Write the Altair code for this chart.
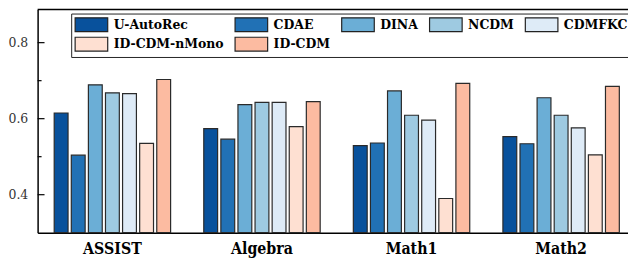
import altair as alt
import pandas as pd

datasets = ["ASSIST", "Algebra", "Math1", "Math2"]
methods = ["U-AutoRec", "CDAE", "DINA", "NCDM", "CDMFKC", "ID-CDM-nMono", "ID-CDM"]
colors = ["#08519c", "#2171b5", "#6baed6", "#9ecae1", "#deebf7", "#fee0d2", "#fcbba1"]

u_autorec = [0.615, 0.574, 0.529, 0.553]
cdae = [0.504, 0.546, 0.536, 0.534]
dina = [0.689, 0.637, 0.673, 0.655]
ncdm = [0.668, 0.643, 0.609, 0.609]
cdmfkc = [0.666, 0.643, 0.596, 0.576]
id_cdm_nmono = [0.535, 0.579, 0.390, 0.505]
id_cdm = [0.703, 0.645, 0.693, 0.685]

y_ticks_major = [0.4, 0.6, 0.8]
y_ticks_minor = [0.5, 0.7]

series = [u_autorec, cdae, dina, ncdm, cdmfkc, id_cdm_nmono, id_cdm]
rows = []
for m, vals in zip(methods, series):
    for d, v in zip(datasets, vals):
        rows.append({"dataset": d, "method": m, "value": v})
df = pd.DataFrame(rows)

FONT = "'DejaVu Serif Condensed', 'DejaVu Serif', serif"
W, H = 598, 226
ymin, ymax = 0.3, 0.887
yscale = alt.Scale(domain=[ymin, ymax], nice=False, zero=False)

bars = alt.Chart(df).mark_bar(stroke="#2a2a2a", strokeWidth=1.2).encode(
    x=alt.X("dataset:N", sort=datasets,
            scale=alt.Scale(range=[0, 606], paddingInner=0.2, paddingOuter=0.1),
            axis=alt.Axis(title=None, labelAngle=0, tickSize=0, labelPadding=8,
                          labelFont=FONT, labelFontSize=16,
                          labelFontWeight="bold", labelColor="#000",
                          domainColor="#000", domainWidth=1.5)),
    xOffset=alt.XOffset("method:N", sort=methods,
                        scale=alt.Scale(paddingInner=0.19, paddingOuter=0.095)),
    y=alt.Y("value:Q", scale=yscale,
            axis=alt.Axis(title=None, values=y_ticks_major, format=".1f", tickSize=0,
                          grid=False, labelPadding=10, labelFont=FONT,
                          labelFontSize=14, labelColor="#333",
                          domainColor="#000", domainWidth=1.5)),
    y2=alt.datum(ymin),
    color=alt.Color("method:N", sort=methods,
                    scale=alt.Scale(domain=methods, range=colors),
                    legend=alt.Legend(title=None, orient="none", legendX=34, legendY=4,
                                      direction="horizontal",
                                      columns=5, columnPadding=8, rowPadding=0,
                                      symbolType="M-2.357,-1H2.357V1H-2.357Z",
                                      symbolSize=196, symbolOffset=9.5, labelOffset=14.5,
                                      symbolStrokeColor="#222", symbolStrokeWidth=1.2,
                                      symbolOpacity=1,
                                      labelFont=FONT, labelFontSize=14,
                                      labelFontWeight="bold", labelColor="#000",
                                      fillColor="white", strokeColor="#222",
                                      padding=3)),
)

major = alt.Chart(pd.DataFrame({"t": y_ticks_major})).mark_rule(
    color="#000", strokeWidth=1.2).encode(
    y=alt.Y("t:Q", scale=yscale), x=alt.value(0), x2=alt.value(7))
minor = alt.Chart(pd.DataFrame({"t": y_ticks_minor})).mark_rule(
    color="#000", strokeWidth=1.2).encode(
    y=alt.Y("t:Q", scale=yscale), x=alt.value(0), x2=alt.value(4))
top = alt.Chart(pd.DataFrame({"t": [ymax]})).mark_rule(
    color="#000", strokeWidth=1.5).encode(
    y=alt.Y("t:Q", scale=yscale), x=alt.value(0), x2=alt.value(620))

chart = alt.layer(bars, major, minor, top).properties(
    width=W, height=H,
    autosize=alt.AutoSizeParams(type="none"),
    padding={"left": 30, "top": 0, "right": 0, "bottom": 24},
).configure(font=FONT).configure_view(strokeWidth=0)

chart.save("out.html", embed_options={"renderer": "svg", "actions": False})
